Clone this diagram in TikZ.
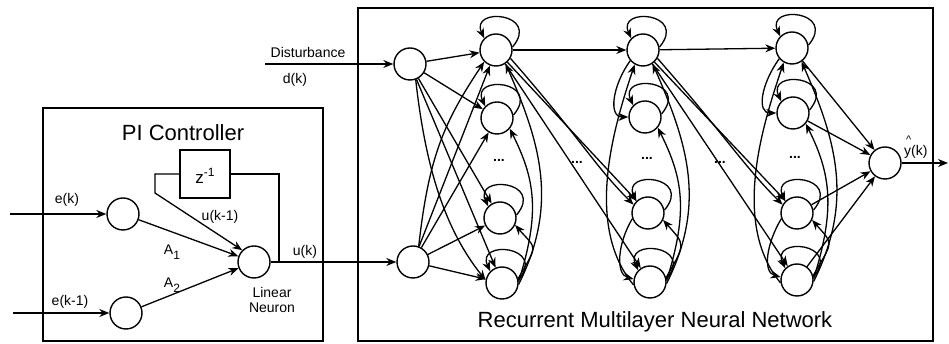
\documentclass[tikz,border=0pt]{standalone}
\usepackage{fontspec}
\setmainfont{Liberation Sans}
\usetikzlibrary{arrows.meta}

% self-loop drawn over the top of a neuron
\newcommand\nloop[1]{\draw[arr] (#1.10) .. controls +(50:45) and +(115:35) .. (#1.135);}

\begin{document}
\begin{tikzpicture}[x=1pt,y=1pt,
  neuron/.style={circle, draw, line width=1.4pt, minimum size=32pt, inner sep=0pt},
  wire/.style={line width=1.3pt},
  arr/.style={wire, -{Stealth[length=10pt,width=8pt]}},
  lbl/.style={font=\fontsize{14}{16}\selectfont, inner sep=0pt},
  heading/.style={font=\fontsize{22}{24}\selectfont, inner sep=0pt},
  ellip/.style={font=\fontsize{14}{16}\selectfont\bfseries, inner sep=0pt},
  frame/.style={draw, line width=1.6pt},
  delaybox/.style={draw, line width=1.4pt, minimum width=50pt, minimum height=48pt, inner sep=0pt}
]
\useasboundingbox (0,0) rectangle (949,344);

% ---------------- PI controller ----------------
\draw[frame] (43,3) rectangle (323,236);
\node[heading] (pititle) at (183,211) {PI Controller};

\node[neuron] (ek)  at (123,130) {};
\node[neuron] (ek1) at (126,31) {};
\node[neuron] (lin) at (254,82) {};
\node[delaybox] (zbox) at (205,170) {};
\node[inner sep=0pt, font=\fontsize{17}{18}\selectfont] (ztext) at (205,168)
  {z\raisebox{7pt}{\fontsize{12}{12}\selectfont -1}};

\coordinate (ekin)  at (10,130);
\coordinate (ek1in) at (13,31);
\draw[arr] (ekin) -- (ek);
\draw[arr] (ek1in) -- (ek1);
\draw[arr] (ek) -- (lin);
\draw[arr] (ek1) -- (lin);

\coordinate (fb1) at (279,82);
\coordinate (fb2) at (279,170);
\coordinate (fb3) at (155,170);
\coordinate (fb4) at (155,151);
\draw[wire] (fb1) -- (fb2) -- (zbox.east);
\draw[arr] (zbox.west) -- (fb3) -- (fb4) -- (lin.135);

\node[lbl] (lek)  at (67,144) {e(k)};
\node[lbl] (lek1) at (70,42) {e(k-1)};
\node[lbl] (la1) at (172,92) {A\raisebox{-5pt}{\fontsize{12}{12}\selectfont 1}};
\node[lbl] (la2) at (172,59) {A\raisebox{-5pt}{\fontsize{12}{12}\selectfont 2}};
\node[lbl] (luk1) at (220,127) {u(k-1)};
\node[lbl] (luk) at (305,92) {u(k)};
\node[lbl, align=center, font=\fontsize{14}{16}\selectfont] (llin) at (272,44) {Linear\\Neuron};

% ---------------- recurrent network ----------------
\draw[frame] (358,3) rectangle (933,336);
\node[heading] (nntitle) at (655,22) {Recurrent Multilayer Neural Network};

\node[neuron] (in1) at (410,280) {};
\node[neuron] (in2) at (413,82) {};

\node[neuron] (a1) at (496,294) {};
\node[neuron] (b1) at (497,226) {};
\node[neuron] (c1) at (500,126) {};
\node[neuron] (d1) at (502,61) {};
\node[ellip] (e1) at (499,184) {...};

\node[neuron] (a2) at (643,294) {};
\node[neuron] (b2) at (645,227) {};
\node[neuron] (c2) at (648,131) {};
\node[neuron] (d2) at (650,62) {};
\node[ellip] (e2) at (647,186) {...};

\node[neuron] (a3) at (792,296) {};
\node[neuron] (b3) at (793,231) {};
\node[neuron] (c3) at (797,131) {};
\node[neuron] (d3) at (797,64) {};
\node[ellip] (e3) at (795,187) {...};

\node[ellip] (g12) at (577,182) {...};
\node[ellip] (g23) at (720,182) {...};

\node[neuron] (out) at (885,181) {};

% external signals
\coordinate (dist) at (265,280);
\draw[arr] (dist) -- (in1);
\node[lbl] (ldist) at (308,291) {Disturbance};
\node[lbl] (ldk) at (295,264) {d(k)};
\draw[arr] (lin) -- (in2);

\coordinate (yout) at (948,181);
\draw[arr] (out) -- (yout);
\node[lbl, anchor=south west] (lyhat) at (904,185)
  {\shortstack[l]{\kern2pt{\fontsize{11}{11}\selectfont\textasciicircum}\\[-1pt]y(k)}};

% input layer -> first hidden layer
\foreach \t in {a,b,c,d} {
  \draw[arr] (in1) -- (\t1);
  \draw[arr] (in2) -- (\t1);
}
\draw[arr] (in2.70) .. controls +(10,90) and +(-40,-60) .. (a1.225);
\draw[arr] (in1.-70) .. controls +(10,-90) and +(-40,50) .. (d1.170);

% self-loops
\foreach \n in {a1,b1,c1,d1,a2,b2,c2,d2,a3,b3,c3,d3} { \nloop{\n} }

% recurrent links inside each layer (right side, upward)
\foreach \i in {1,2,3} {
  \draw[arr] (d\i.15) .. controls +(20,35) and +(22,-25) .. (c\i.-25);
  \draw[arr] (d\i.5)  .. controls +(22,70) and +(25,-50) .. (b\i.-40);
  \draw[arr] (d\i.-5) .. controls +(40,80) and +(35,-80) .. (a\i.-55);
}
% recurrent links inside layers 2 and 3 (left side)
\foreach \i in {2,3} {
  \draw[arr] (a\i.220) .. controls +(-18,-25) and +(-20,0) .. (b\i.180);
  \draw[arr] (c\i.200) .. controls +(-15,-25) and +(-18,5) .. (d\i.170);
  \draw[arr] (d\i.190) .. controls +(-50,60) and +(-20,-60) .. (a\i.240);
}

% feed-forward links between hidden layers
\foreach \i/\j in {1/2,2/3} {
  \draw[arr] (a\i) -- (a\j);
  \draw[arr] (a\i) -- (c\j);
  \draw[arr] (a\i) -- (d\j);
  \draw[arr] (a\i.-30) .. controls +(70,-80) and +(-40,40) .. (c\j.150);
}

% last hidden layer -> output neuron
\foreach \t in {a,b,c,d} { \draw[arr] (\t3) -- (out); }

\end{tikzpicture}
\end{document}
